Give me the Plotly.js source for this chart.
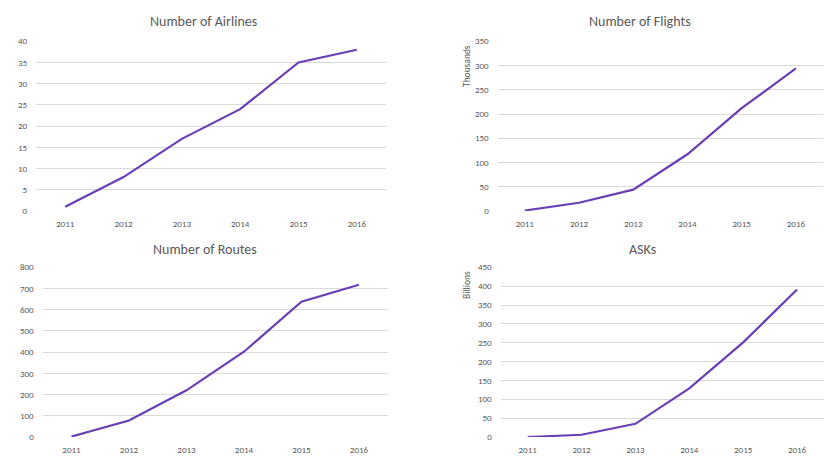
<!DOCTYPE html>
<html>
<head>
<meta charset="utf-8">
<script src="https://cdn.plot.ly/plotly-3.0.1.min.js"></script>
<style>html,body{margin:0;padding:0;background:#fff;}#chart{width:838px;height:472px;}</style>
</head>
<body>
<div id="chart"></div>
<script>
const years = ['2011', '2012', '2013', '2014', '2015', '2016'];
const airlines = [1, 8, 17, 24, 35, 38];
const flightsThousands = [1, 17, 44, 117, 212, 294];
const routes = [2, 78, 220, 402, 638, 718];
const asksBillions = [0, 6, 35, 129, 251, 391];

const W = 838, H = 472;
const lineColor = '#6a3fb5';
const grey = '#595959';
const gridColor = '#d9d9d9';
const fontFam = 'Carlito, "Open Sans", "Noto Sans", sans-serif';

function px2x(a, b) { return [a / W, b / W]; }
function px2y(top, bottom) { return [1 - bottom / H, 1 - top / H]; }

function xaxis(dom, anchor) {
  return {
    domain: dom, anchor: anchor, type: 'category', range: [-0.5, 5.5],
    showgrid: false, zeroline: false, showline: false, ticks: '',
    tickfont: {size: 9, color: grey, family: fontFam}, ticklabelstandoff: 6,
    fixedrange: true
  };
}
function yaxis(dom, anchor, range, dtick) {
  return {
    domain: dom, anchor: anchor, range: range, dtick: dtick,
    showgrid: true, gridcolor: gridColor, gridwidth: 1, zeroline: false,
    showline: false, ticks: '',
    tickfont: {size: 9, color: grey, family: fontFam}, ticklabelstandoff: 8,
    fixedrange: true
  };
}

const traces = [
  {x: years, y: airlines, xaxis: 'x', yaxis: 'y'},
  {x: years, y: flightsThousands, xaxis: 'x2', yaxis: 'y2'},
  {x: years, y: routes, xaxis: 'x3', yaxis: 'y3'},
  {x: years, y: asksBillions, xaxis: 'x4', yaxis: 'y4'}
].map(t => Object.assign(t, {type: 'scatter', mode: 'lines', line: {color: lineColor, width: 2.2}, hoverinfo: 'skip'}));

const titleFont = {size: 14, color: grey, family: fontFam};
const layout = {
  width: W, height: H, margin: {l: 0, r: 0, t: 0, b: 0},
  paper_bgcolor: '#fff', plot_bgcolor: '#fff', showlegend: false,
  xaxis: xaxis(px2x(36, 386), 'y'),
  yaxis: yaxis(px2y(41.3, 211), 'x', [0, 40], 5),
  xaxis2: xaxis(px2x(497.7, 823), 'y2'),
  yaxis2: yaxis(px2y(41.3, 211), 'x2', [0, 350], 50),
  xaxis3: xaxis(px2x(42.7, 387.7), 'y3'),
  yaxis3: yaxis(px2y(267.3, 437), 'x3', [0, 800], 100),
  xaxis4: xaxis(px2x(500.7, 824), 'y4'),
  yaxis4: yaxis(px2y(267.3, 437), 'x4', [0, 450], 50),
  annotations: [
    {text: 'Number of Airlines', x: 203 / W, y: 1 - 22 / H},
    {text: 'Number of Flights', x: 640 / W, y: 1 - 22 / H},
    {text: 'Number of Routes', x: 205 / W, y: 1 - 249 / H},
    {text: 'ASKs', x: 642 / W, y: 1 - 249 / H}
  ].map(a => Object.assign(a, {xref: 'paper', yref: 'paper', xanchor: 'center', yanchor: 'middle', showarrow: false, font: titleFont}))
  .concat([
    {text: 'Thousands', x: 467 / W, y: 1 - 66 / H},
    {text: 'Billions', x: 467 / W, y: 1 - 285 / H}
  ].map(a => Object.assign(a, {xref: 'paper', yref: 'paper', xanchor: 'center', yanchor: 'middle', textangle: -90, showarrow: false, font: {size: 9.5, color: grey, family: fontFam}})))
};

Plotly.newPlot('chart', traces, layout, {displayModeBar: false, staticPlot: true});
</script>
</body>
</html>
